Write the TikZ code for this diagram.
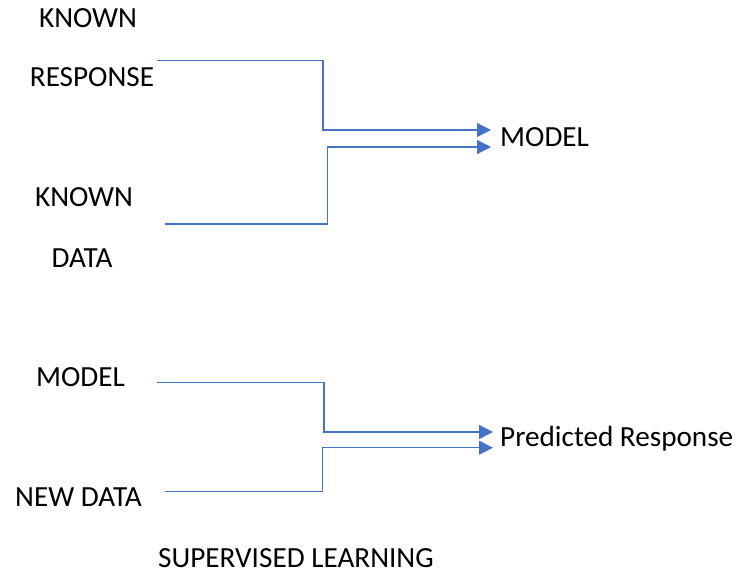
\documentclass[tikz,border=0pt]{standalone}
\usepackage{fontspec}
\setmainfont{Carlito}
\usetikzlibrary{arrows.meta}
\definecolor{linkblue}{HTML}{4472C4}
\begin{document}
\begin{tikzpicture}[x=1pt,y=-1pt,
  lbl/.style={inner sep=0pt,anchor=base,font=\fontsize{29.2}{35}\selectfont},
  link/.style={draw=linkblue,line width=1.3pt,-{Triangle[length=14pt,width=14pt]},linkblue}]
\useasboundingbox (0,0) rectangle (737,571);

% labels of the training stage
\node[lbl] (known1) at (88,27) {KNOWN};
\node[lbl] (resp) at (92,86) {RESPONSE};
\node[lbl] (known2) at (84,206) {KNOWN};
\node[lbl] (data) at (82,267) {DATA};
\node[lbl,anchor=base west] (model1) at (500,146) {MODEL};

% labels of the prediction stage
\node[lbl] (model2) at (80.5,386) {MODEL};
\node[lbl] (newdata) at (78.5,506) {NEW DATA};
\node[lbl,anchor=base west] (pred) at (500,446) {Predicted Response};
\node[lbl,text depth=0pt] (title) at (296,567) {SUPERVISED LEARNING};

% line ends
\coordinate (s1) at (157,60.7);
\coordinate (s2) at (165,224);
\coordinate (t1) at (491,130);
\coordinate (t2) at (491,147);
\coordinate (s3) at (157,382.7);
\coordinate (s4) at (165,491.7);
\coordinate (t3) at (493,432);
\coordinate (t4) at (493,447.7);

% connectors
\draw[link] (s1) -- (323,60.7) -- (323,130) -- (t1);
\draw[link] (s2) -- (327.7,224) -- (327.7,147) -- (t2);
\draw[link] (s3) -- (324,382.7) -- (324,432) -- (t3);
\draw[link] (s4) -- (322.7,491.7) -- (322.7,447.7) -- (t4);
\end{tikzpicture}
\end{document}
